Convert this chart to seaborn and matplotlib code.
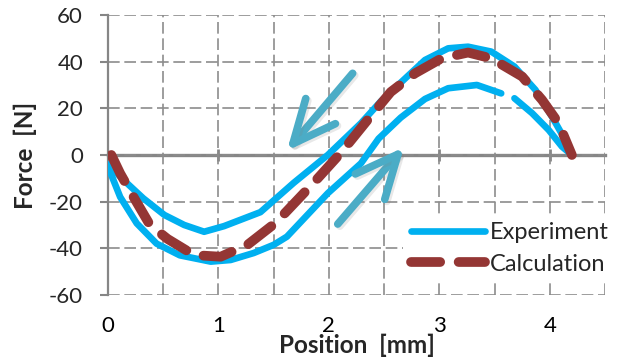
import numpy as np
import pandas as pd
import seaborn as sns
import matplotlib
matplotlib.use("Agg")
from matplotlib import pyplot as plt
from matplotlib.ticker import MultipleLocator
import matplotlib.patheffects as pe

# experiment loop
# lower branch (moving right), ends where the trace breaks near 3.6 mm
exp_lower_x = [0.00, 0.11, 0.26, 0.44, 0.65, 0.93, 1.11, 1.32, 1.50, 1.62, 1.99, 2.29, 2.45, 2.65, 2.87, 3.08, 3.34, 3.56]
exp_lower_y = [-5.0, -18.0, -29.3, -38.0, -43.0, -45.7, -45.0, -42.0, -38.5, -35.0, -16.4, -3.6, 7.0, 16.0, 24.0, 28.6, 30.0, 26.4]
# rest of the lower branch, then upper branch (moving left) back to zero
exp_upper_x = [3.68, 3.84, 3.99, 4.11, 4.20, 4.14, 4.02, 3.87, 3.68, 3.47, 3.26, 3.08, 2.87, 2.65, 2.47,
               2.29, 1.99, 1.68, 1.38, 1.05, 0.87, 0.69, 0.51, 0.32, 0.14, 0.00]
exp_upper_y = [24.3, 17.9, 10.7, 3.6, 0.0, 6.4, 16.4, 27.9, 37.9, 44.3, 46.4, 45.7, 40.7, 31.0, 23.0,
               13.6, 0.0, -12.0, -24.5, -30.5, -32.9, -30.0, -25.7, -18.6, -10.7, -4.0]

calc_x = [0.03, 0.11, 0.23, 0.38, 0.54, 0.78, 1.02, 1.26, 1.52, 1.68, 1.88, 2.11, 2.35, 2.56, 2.78,
          3.02, 3.26, 3.47, 3.75, 3.93, 4.08, 4.20]
calc_y = [0.0, -7.9, -17.9, -30.0, -36.0, -42.9, -43.6, -38.6, -29.0, -21.0, -11.0, 1.0, 15.0, 27.0, 35.0,
          41.4, 43.9, 41.4, 33.6, 23.6, 13.6, 0.0]

# direction arrows: (tail x, tail y, tip x, tip y)
arrow_left = (2.215, 35.0, 1.62, 1.8)
arrow_right = (2.08, -29.6, 2.68, 3.3)

x_ticks = [0, 1, 2, 3, 4]
y_ticks = [-60, -40, -20, 0, 20, 40, 60]

EXP_COLOR = "#00B0F0"
CALC_COLOR = "#943634"
ARROW_COLOR = "#4BACC6"
GRAY = "#868686"
FS = 16

exp_df = pd.DataFrame({
    "x": exp_lower_x + exp_upper_x,
    "y": exp_lower_y + exp_upper_y,
    "seg": ["a"] * len(exp_lower_x) + ["b"] * len(exp_upper_x),
})
calc_df = pd.DataFrame({"x": calc_x, "y": calc_y})

sns.set_style("white")
plt.rcParams["font.family"] = ["Lato", "DejaVu Sans"]
plt.rcParams["axes.unicode_minus"] = False

fig = plt.figure(figsize=(6.28, 3.6), dpi=100)
ax = fig.add_axes([0.172, 0.1806, 0.7914, 0.7778])

sns.lineplot(data=exp_df, x="x", y="y", units="seg", estimator=None, sort=False, ax=ax,
             color=EXP_COLOR, linewidth=4.8, solid_capstyle="round", label="Experiment", zorder=3)
sns.lineplot(data=calc_df, x="x", y="y", sort=False, ax=ax, color=CALC_COLOR, linewidth=7,
             linestyle=(0, (3.0, 1.9)), dash_capstyle="round", label="Calculation", zorder=4)

for tx, ty, hx, hy in (arrow_left, arrow_right):
    ax.annotate("", xy=(hx, hy), xytext=(tx, ty),
                arrowprops=dict(arrowstyle="->,head_length=1.1,head_width=0.5", color=ARROW_COLOR,
                                lw=5.5, shrinkA=0, shrinkB=0, mutation_scale=28,
                                path_effects=[pe.SimpleLineShadow(offset=(1.5, -1.5), shadow_color="gray", alpha=0.18),
                                              pe.Normal()]),
                zorder=5)

ax.set_xlim(0, 4.5)
ax.set_ylim(-60, 60)
ax.set_xticks(x_ticks)
ax.set_yticks(y_ticks)
ax.xaxis.set_minor_locator(MultipleLocator(0.5))

grid_kw = dict(color="#8c8c8c", linestyle=(0, (7, 2.8)), linewidth=1.2)
ax.grid(True, axis="x", which="both", **grid_kw)
ax.grid(True, axis="y", which="major", **grid_kw)
ax.set_axisbelow(True)

for side in ("top", "right", "bottom"):
    ax.spines[side].set_visible(False)
ax.spines["left"].set_color(GRAY)
ax.spines["left"].set_linewidth(1.6)

ax.tick_params(axis="x", which="both", bottom=False, length=0, pad=15, labelsize=FS, colors="black")
ax.tick_params(axis="y", left=True, length=6, width=1.5, color=GRAY, direction="out", pad=12, labelsize=FS)

# zero line with the small crossing tick marks
zero_ax = ax.secondary_xaxis(0.5)
zero_ax.set_xticks([1, 2, 3, 4])
zero_ax.tick_params(direction="inout", length=8, width=2, color=GRAY, labeltop=False, labelbottom=False)
for sp in zero_ax.spines.values():
    sp.set_color(GRAY)
    sp.set_linewidth(2.4)

ax.set_xlabel("Position  [mm]", fontsize=17.5, fontweight="bold", va="center")
ax.set_ylabel("Force  [N]", fontsize=17.5, fontweight="bold", va="center")
ax.xaxis.set_label_coords(0.5, -0.179)
ax.yaxis.set_label_coords(-0.166, 0.5)

handles, labels = ax.get_legend_handles_labels()
uniq = dict(zip(labels, handles))
ax.legend(uniq.values(), uniq.keys(), loc="upper left", bbox_to_anchor=(0.594, 0.29),
          borderaxespad=0, borderpad=0.35, handlelength=3.1, handletextpad=0.22, labelspacing=0.45,
          fontsize=17, frameon=True, facecolor="white", edgecolor="none", framealpha=1, fancybox=False)

fig.savefig("out.png", dpi=100)
